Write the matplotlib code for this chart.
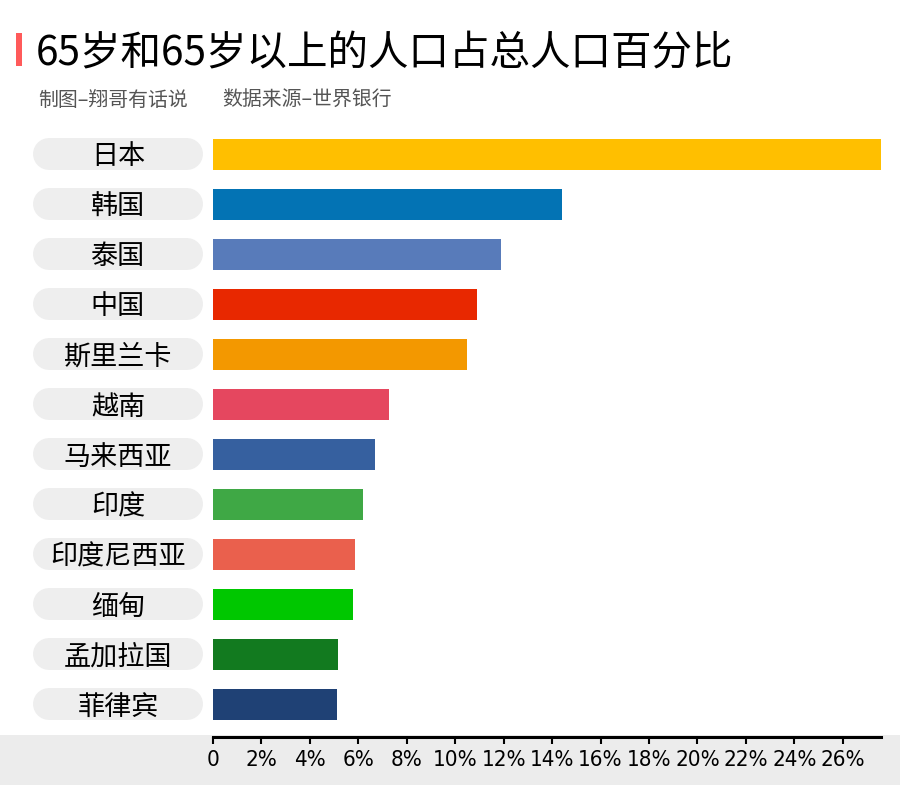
import matplotlib
matplotlib.use("Agg")
import matplotlib.pyplot as plt
from matplotlib.lines import Line2D
from matplotlib.patches import Rectangle
import matplotlib.transforms as mtransforms
from matplotlib import font_manager

plt.rcParams['font.family'] = ['Noto Sans CJK SC', 'DejaVu Sans']

countries = ["日本", "韩国", "泰国", "中国", "斯里兰卡", "越南", "马来西亚", "印度",
             "印度尼西亚", "缅甸", "孟加拉国", "菲律宾"]
values = [27.58, 14.42, 11.90, 10.92, 10.47, 7.27, 6.67, 6.18, 5.86, 5.78, 5.16, 5.12]
colors = ["#FFBF00", "#0373B4", "#587BBA", "#E82800", "#F39800", "#E5475F",
          "#36609F", "#3FA845", "#EA604D", "#00C700", "#127A1F", "#1F4175"]
ticks = list(range(0, 27, 2))
tick_labels = ["0" if t == 0 else f"{t}%" for t in ticks]

title = "65岁和65岁以上的人口占总人口百分比"
subtitle_a = "制图–翔哥有话说"
subtitle_b = "数据来源–世界银行"

W, H = 900, 785
fig = plt.figure(figsize=(W / 100, H / 100), dpi=100)
fig.patch.set_facecolor("white")

# bottom gray band
fig.patches.append(Rectangle((0, 0), 1, (H - 735) / H, transform=fig.transFigure,
                             facecolor="#ececec", edgecolor="none", zorder=-5))

ax = fig.add_axes([213 / W, (H - 737) / H, (881 - 213) / W, (737 - 129) / H])
ax.set_zorder(2)
ax.set_facecolor("none")
ypos = list(range(len(countries)))
ax.barh(ypos, values, height=0.62, color=colors, zorder=3)
ax.set_xlim(0, max(values))
ax.set_ylim(len(countries) - 1 + 0.66, -0.5)

for s in ["top", "right", "left"]:
    ax.spines[s].set_visible(False)
ax.spines["bottom"].set_linewidth(2.2)
ax.spines["bottom"].set_color("black")
ax.set_yticks([])
ax.set_xticks(ticks)
names = {f.name for f in font_manager.fontManager.ttflist}
if "Liberation Sans Narrow" in names:
    tick_font = dict(fontfamily="Liberation Sans Narrow", fontsize=18)
else:
    tick_font = dict(fontfamily="DejaVu Sans", fontstretch="condensed", fontsize=16)
ax.set_xticklabels(tick_labels, **tick_font)
for lbl in ax.get_xticklabels():
    lbl.set_fontstretch("condensed")
ax.tick_params(axis="x", direction="out", length=5, width=1.5, pad=4, colors="black")

# pills and labels
trans = mtransforms.blended_transform_factory(fig.transFigure, ax.transData)
for y, name in zip(ypos, countries):
    ln = Line2D([49 / W, 187 / W], [y, y], transform=trans, color="#eeeeee",
                linewidth=32 * 0.72, solid_capstyle="round", zorder=1)
    fig.lines.append(ln)
    fig.text(118 / W, y, name, transform=trans, ha="center", va="center_baseline",
             fontsize=19.5, color="black", zorder=2)

# title
fig.patches.append(Rectangle((16 / W, (H - 66) / H), 6 / W, 33 / H, transform=fig.transFigure,
                             facecolor="#FF5A5A", edgecolor="none"))
fig.text(36 / W, (H - 49) / H, title, fontsize=29.2, color="black", ha="left", va="center_baseline",
         fontweight="medium")
fig.text(38 / W, (H - 98) / H, subtitle_a, fontsize=14.3, color="#555555", ha="left", va="center_baseline")
fig.text(222 / W, (H - 98) / H, subtitle_b, fontsize=14.3, color="#555555", ha="left", va="center_baseline")

fig.savefig("out.png", dpi=100)
